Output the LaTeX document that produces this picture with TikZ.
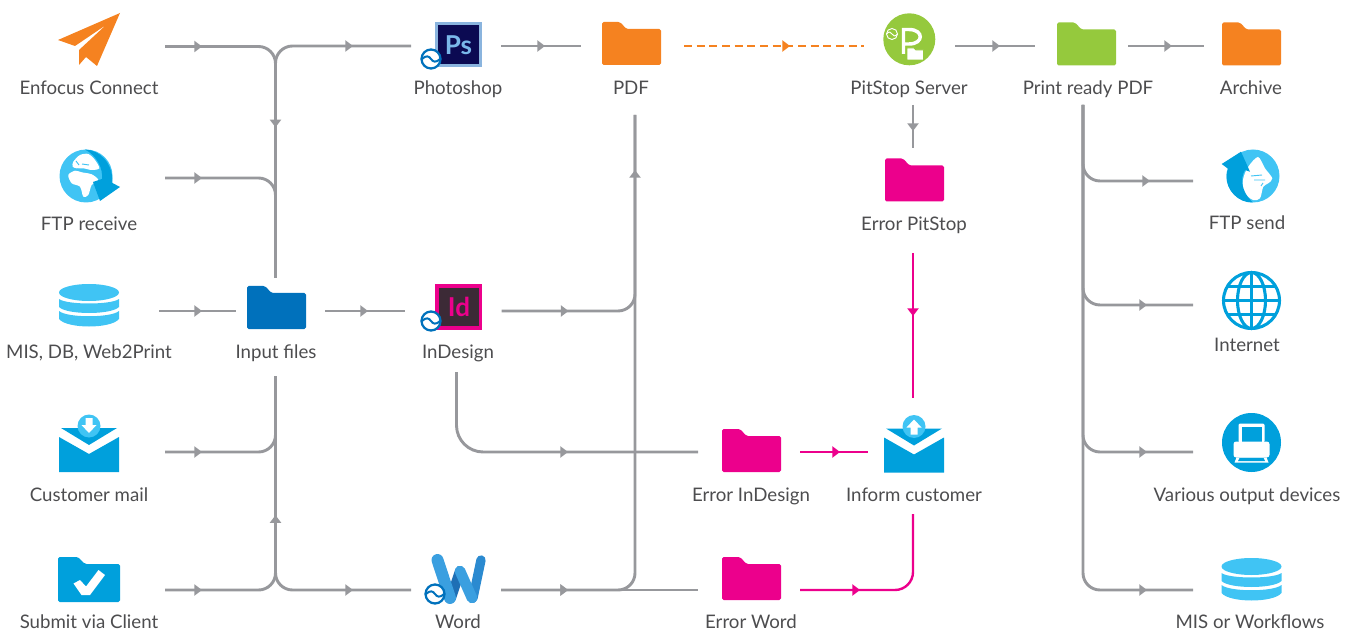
\documentclass[tikz,border=0pt]{standalone}
\usepackage{fontspec}
\setmainfont{Lato}
\usetikzlibrary{arrows.meta,decorations.markings}

\definecolor{flowgray}{HTML}{97989C}
\definecolor{textgray}{HTML}{4D4D4F}
\definecolor{errpink}{HTML}{EC008C}
\definecolor{pdforange}{HTML}{F58220}
\definecolor{readygreen}{HTML}{95C93D}
\definecolor{inputblue}{HTML}{0071BC}
\definecolor{midblue}{HTML}{00A0DC}
\definecolor{skyblue}{HTML}{40C4F4}
\definecolor{psframe}{HTML}{8AB4DE}
\definecolor{psnavy}{HTML}{0B0A52}
\definecolor{psletter}{HTML}{7AB8EA}
\definecolor{iddark}{HTML}{3C2A36}
\definecolor{wordlight}{HTML}{3A9FE0}
\definecolor{worddark}{HTML}{1E6FB5}
\definecolor{wordright}{HTML}{2B8AD0}

\tikzset{
  x=0.75pt,y=-0.75pt,
  flowtip/.tip={Triangle[length=5.8pt,width=8.4pt]},
  tipat/.style={postaction={decorate,decoration={markings,
      mark=at position #1*0.75pt with {\arrow{flowtip}}}}},
  flowline/.style={draw=flowgray,line width=2.2pt,rounded corners=12.75pt},
  errline/.style={draw=errpink,line width=1.8pt,rounded corners=13.5pt},
  gapstart/.style={shorten <=#1*0.75pt},
  gapend/.style={shorten >=#1*0.75pt},
  station/.style 2 args={minimum width=#1*0.75pt,minimum height=#2*0.75pt,
      inner sep=0pt,outer sep=0pt},
  lab/.style={anchor=base,inner sep=0pt,text=textgray,font=\fontsize{14}{14}\selectfont},
  logotext/.style={inner sep=0pt,font=\fontsize{19.5}{19.5}\selectfont\bfseries},
  pics/folder/.style={code={
    \fill[#1,rounded corners=1.2pt] (-29.5,-21.5) -- (-11.5,-21.5) -- (-5,-14.5)
      -- (29.5,-14.5) -- (29.5,21.5) -- (-29.5,21.5) -- cycle;
  }},
  pics/waves/.style={code={
    \filldraw[fill=white,draw=inputblue,line width=1.7pt] (0,0) circle (9.5);
    \draw[inputblue,line width=1.5pt] (-9,0) .. controls (-5,-4) and (-2,-3) .. (0,0)
      .. controls (2,3) and (5,4) .. (9,0);
  }},
  pics/database/.style={code={
    \fill[skyblue] (0,-13.5) ellipse (30 and 8.5);
    \fill[skyblue] (-30,-7) .. controls (-22,-1) and (22,-1) .. (30,-7) -- (30,1)
      .. controls (22,9) and (-22,9) .. (-30,1) -- cycle;
    \fill[skyblue] (-30,5) .. controls (-22,12) and (22,12) .. (30,5) -- (30,13)
      .. controls (22,23) and (-22,23) .. (-30,13) -- cycle;
  }},
  pics/mail/.style={code={
    \fill[midblue] (-30,-7) -- (0,10) -- (30,-7) -- (30,28) -- (-30,28) -- cycle;
    \fill[midblue] (-28,-16) -- (28,-16) -- (0,1) -- cycle;
    \fill[skyblue] (0,-18) circle (11.5);
    \begin{scope}[shift={(0,-18)},yscale=#1]
      \fill[white] (-3.5,-8) -- (3.5,-8) -- (3.5,-1) -- (7.5,-1) -- (0,7) -- (-7.5,-1)
        -- (-3.5,-1) -- cycle;
    \end{scope}
  }},
}

\begin{document}
\begin{tikzpicture}
\useasboundingbox (0,0) rectangle (1354,631);

% icons
\fill[pdforange] (120,13) -- (58,40) -- (75,46) -- (106,25) -- (79,50) -- (79,65)
  -- (86,57) -- (97,66) -- cycle;

\begin{scope}[shift={(86,176)}]
  \fill[skyblue] (0,0) circle (26.5);
  \fill[white] plot[smooth cycle] coordinates {(-17.7,-1) (-11,-5.3) (-4.3,-3.7) (5.7,-1.7)
    (12.3,4) (5.7,9) (2.3,19) (-2.7,20.7) (-6,10.7) (-14.3,7.3)};
  \fill[white] plot[smooth cycle] coordinates {(-12.7,-14.3) (-6,-21) (2.3,-22) (9,-16)
    (13.3,-7.7) (5.7,-6) (-2.7,-7.7) (-9.3,-7.7) (-13.3,-9.3)};
  \draw[skyblue,line width=0.7pt] (-10,-15) -- (-7,-11) (-4,-12) -- (3,-11) (-9,-7) -- (1,-5);
  \fill[midblue] (-1,-26.5) .. controls (14,-26) and (27,-13) .. (26.5,7) -- (34,11) -- (14,25)
    -- (7,6) -- (16,3) .. controls (17,-8) and (11,-20) .. (-1,-26.5) -- cycle;
\end{scope}

\pic at (89,306) {database};
\pic at (89,444) {mail=1};

\fill[midblue,rounded corners=1.2pt] (58,557) -- (78,557) -- (85,564) -- (120,564)
  -- (120,602) -- (58,602) -- cycle;
\fill[white] (73.5,583.5) -- (81.5,595) -- (90,595) -- (105,575) -- (98.5,570) -- (86,586.5)
  -- (80,580) -- cycle;

\pic at (276.5,307.5) {folder=inputblue};

\fill[psframe] (435,22) rectangle (482,67);
\fill[psnavy] (438,25) rectangle (479,64);
\node[logotext,text=psletter] (pstext) at (458.5,45) {Ps};
\pic at (431,59) {waves};

\fill[errpink] (435,284) rectangle (482,330);
\fill[iddark] (438.5,288) rectangle (478.5,326);
\node[logotext,text=errpink] (idtext) at (459,307) {Id};
\pic at (431,321) {waves};

\begin{scope}[line cap=round]
  \draw[worddark,line width=7.5pt] (451,598) -- (460,571);
  \draw[wordlight,line width=9pt] (437.5,560) -- (450,598);
  \draw[wordright,line width=7pt] (473,598) -- (481,560);
  \draw[wordlight,line width=8pt] (460,571) -- (472,598);
\end{scope}
\pic at (435,594) {waves};

\pic at (631.5,43.5) {folder=pdforange};

\fill[readygreen] (909.3,39.3) circle (26);
\draw[white,line width=2.6pt] (903.5,54) -- (903.5,29.5) -- (909,29.5)
  .. controls (924,29.5) and (924,44) .. (909,44) -- (904,44);
\filldraw[fill=readygreen,draw=white,line width=0.7pt] (892,34) circle (5.5);
\draw[white,line width=0.7pt] (886.5,34) .. controls (889,31) and (891,32) .. (892,34)
  .. controls (893,36) and (895,37) .. (897.5,34);
\filldraw[fill=white,draw=readygreen,line width=0.7pt] (907,48) -- (914,48) -- (916,50)
  -- (923.5,50) -- (923.5,60) -- (907,60) -- cycle;

\pic at (1086.5,44) {folder=readygreen};
\pic at (1251.5,44) {folder=pdforange};
\pic at (914.5,180) {folder=errpink};
\pic at (751.5,450.5) {folder=errpink};
\pic at (751.5,578.5) {folder=errpink};
\pic at (914,444.5) {mail=-1};

\begin{scope}[shift={(1253,176)}]
  \fill[skyblue] (0,0) circle (26.5);
  \fill[white] plot[smooth cycle] coordinates {(-4.7,-9.3) (5,-19) (12,-7.7) (19.3,2.3)
    (15.3,7.3) (10.3,10.7) (7,22.3) (0,24) (-9.7,15.7) (-9.7,2.3)};
  \draw[skyblue,line width=0.7pt] (-2,0) -- (9,-1) (1,4) -- (12,4) (8,10) -- (10,7);
  \fill[midblue] (-31.3,-12) -- (-12,-24.3) -- (-3,-4.3) -- (-8,-6) .. controls (-13,2) and (-12,16)
    .. (0,26.5) .. controls (-15,27) and (-27,14) .. (-26.5,0) .. controls (-26.5,-3) and (-26,-5)
    .. (-24.7,-7) -- cycle;
\end{scope}

\begin{scope}[shift={(1251.5,300.5)},midblue,line width=2.3pt]
  \draw (0,0) circle (28);
  \draw (0,0) ellipse (14 and 28);
  \draw (0,-28) -- (0,28);
  \draw (-28,0) -- (28,0);
  \draw (-24,-14) -- (24,-14);
  \draw (-24,14) -- (24,14);
\end{scope}

\begin{scope}[shift={(1251.5,442.5)}]
  \fill[midblue] (0,0) circle (29.5);
  \fill[white,rounded corners=1pt] (-13,-19) rectangle (13,0);
  \fill[midblue] (-10,-16) rectangle (10,0);
  \fill[white,rounded corners=2pt] (-18,-1) rectangle (18,15);
  \fill[white] (-15,15) -- (15,15) -- (17,20) -- (-17,20) -- cycle;
  \fill[midblue] (-12,15.5) -- (12,15.5) -- (13.5,18.5) -- (-13.5,18.5) -- cycle;
\end{scope}

\pic at (1251.5,580) {database};

% labels
\node[lab] (enfocustext) at (89,94.5) {Enfocus Connect};
\node[lab] (ftprecvtext) at (89,230.5) {FTP receive};
\node[lab] (mistext) at (89,358.5) {MIS, DB, Web2Print};
\node[lab] (custmailtext) at (89,501.5) {Customer mail};
\node[lab] (submittext) at (89,628.5) {Submit via Client};
\node[lab] (inputtext) at (276,358.5) {Input files};
\node[lab] (photoshoptext) at (458,94.5) {Photoshop};
\node[lab] (indesigntext) at (458,358.5) {InDesign};
\node[lab] (wordtext) at (458,628.5) {Word};
\node[lab] (pdftext) at (631,94.5) {PDF};
\node[lab] (errindesigntext) at (751,501.5) {Error InDesign};
\node[lab] (errwordtext) at (751,628.5) {Error Word};
\node[lab] (pitstoptext) at (909,94.5) {PitStop Server};
\node[lab] (errpittext) at (914,230.5) {Error PitStop};
\node[lab] (informtext) at (914,501.5) {Inform customer};
\node[lab] (printpdftext) at (1088,94.5) {Print ready PDF};
\node[lab] (archivetext) at (1251,94.5) {Archive};
\node[lab] (ftpsendtext) at (1247,229.5) {FTP send};
\node[lab] (internettext) at (1247,351.5) {Internet};
\node[lab] (outputtext) at (1247,501.5) {Various output devices};
\node[lab] (misouttext) at (1250,628.5) {MIS or Workflows};

% stations, sized so that their edges are where the lines stop
\node[station={154}{10}] (enfocus) at (88,46.5) {};
\node[station={154}{10}] (ftprecv) at (88,178) {};
\node[station={142}{10}] (mis) at (88,311) {};
\node[station={154}{10}] (custmail) at (88,452) {};
\node[station={154}{10}] (submit) at (88,590) {};
\node[station={99}{66}] (input) at (275.5,311) {};
\node[station={90}{10}] (photoshop) at (456,46) {};
\node[station={90}{122}] (indesign) at (456.5,311) {};
\node[station={90}{10}] (word) at (456,590) {};
\node[station={104}{138}] (pdf) at (635,46) {};
\node[station={102}{10}] (errindesign) at (749,452) {};
\node[station={102}{10}] (errword) at (749,590) {};
\node[station={91}{118}] (pitstop) at (909.5,46) {};
\node[station={10}{105}] (errpit) at (913,200.5) {};
\node[station={90}{116}] (inform) at (913,456) {};
\node[station={90}{118}] (printpdf) at (1083,46) {};
\node[station={94}{10}] (archive) at (1251,46) {};
\node[station={116}{10}] (ftpsend) at (1251,181) {};
\node[station={116}{10}] (internet) at (1251,305) {};
\node[station={116}{10}] (output) at (1251,452) {};
\node[station={116}{10}] (misout) at (1251,590) {};

% lines
\draw[flowline,tipat=37,tipat=184] (enfocus.east) -| (input.north);
\draw[flowline,tipat=37] (ftprecv.east) -| (input.north);
\draw[flowline,tipat=-58] (input.north) |- (photoshop.west);
\draw[flowline,tipat=43,gapend=-10] (mis.east) -- (input.west);
\draw[flowline,tipat=43,gapend=7] (input.east) -- (indesign.west);
\draw[flowline,tipat=37,gapend=32] (custmail.east) -| (input.south);
\draw[flowline,tipat=37,tipat=178,gapend=32] (submit.east) -| (input.south);
\draw[flowline,tipat=-58,gapstart=32] (input.south) |- (word.west);
\draw[flowline,tipat=44,gapend=2] (photoshop.east) -- (pdf.west);
\draw[flowline,tipat=67,tipat=-55] (indesign.east) -| (pdf.south);
\draw[flowline,tipat=67] (word.east) -| (pdf.south);
\draw[flowline,rounded corners=20pt,tipat=-130] (indesign.south) |- (errindesign.west);
\draw[flowline,tipat=67] (word.east) -- (errword.west);
\draw[flowline,dashed,draw=pdforange,dash pattern=on 6pt off 3.5pt,tipat=103,gapstart=-3] (pdf.east) -- (pitstop.west);
\draw[flowline,tipat=45,gapend=3] (pitstop.east) -- (printpdf.west);
\draw[flowline,tipat=44] (printpdf.east) -- (archive.west);
\draw[flowline,tipat=26] (errpit.north |- pitstop.south) -- (errpit.north);
\draw[errline,tipat=63] (errpit.south) -- (inform.north);
\draw[errline,tipat=40] (errindesign.east) -- (errindesign.east -| inform.west);
\draw[errline,tipat=60] (errword.east) -| (inform.south);
\draw[flowline,tipat=-43] (printpdf.south) |- (ftpsend.west);
\draw[flowline,tipat=-46] (printpdf.south) |- (internet.west);
\draw[flowline,tipat=-46] (printpdf.south) |- (output.west);
\draw[flowline,tipat=-46] (printpdf.south) |- (misout.west);

\end{tikzpicture}
\end{document}
